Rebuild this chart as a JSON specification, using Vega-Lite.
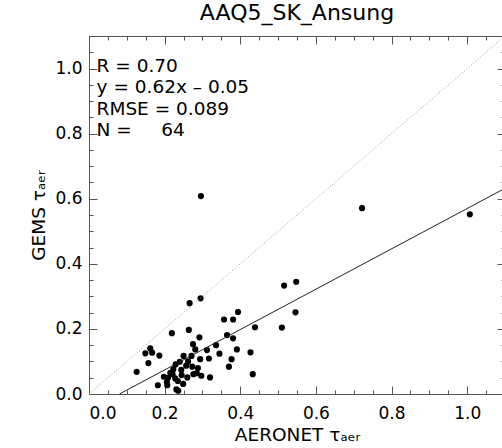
{
  "$schema": "https://vega.github.io/schema/vega-lite/v6.json",
  "autosize": {"type": "none"},
  "padding": {"left": 89, "top": 36, "right": 0, "bottom": 54},
  "width": 416,
  "height": 358,
  "background": "white",
  "title": {"text": "AAQ5_SK_Ansung", "fontSize": 22, "font": "DejaVu Sans", "fontWeight": "normal", "offset": 11, "color": "black"},
  "config": {
    "view": {"stroke": null},
    "axis": {"domainColor": "#555", "tickColor": "#555", "labelFont": "DejaVu Sans", "labelFontSize": 17, "labelColor": "black", "titleFont": "DejaVu Sans", "titleFontSize": 18.5, "titleFontWeight": "normal", "titleColor": "black", "grid": false}
  },
  "datasets": {
    "pts": [
      {"aeronet": 0.296, "gems": 0.608}, {"aeronet": 0.722, "gems": 0.571}, {"aeronet": 1.007, "gems": 0.552},
      {"aeronet": 0.516, "gems": 0.333}, {"aeronet": 0.548, "gems": 0.345}, {"aeronet": 0.546, "gems": 0.251},
      {"aeronet": 0.510, "gems": 0.204}, {"aeronet": 0.266, "gems": 0.279}, {"aeronet": 0.295, "gems": 0.294},
      {"aeronet": 0.219, "gems": 0.187}, {"aeronet": 0.264, "gems": 0.197}, {"aeronet": 0.292, "gems": 0.174},
      {"aeronet": 0.275, "gems": 0.153}, {"aeronet": 0.281, "gems": 0.137}, {"aeronet": 0.312, "gems": 0.135},
      {"aeronet": 0.336, "gems": 0.150}, {"aeronet": 0.345, "gems": 0.124}, {"aeronet": 0.357, "gems": 0.229},
      {"aeronet": 0.381, "gems": 0.229}, {"aeronet": 0.394, "gems": 0.252}, {"aeronet": 0.365, "gems": 0.181},
      {"aeronet": 0.381, "gems": 0.171}, {"aeronet": 0.391, "gems": 0.137}, {"aeronet": 0.377, "gems": 0.107},
      {"aeronet": 0.370, "gems": 0.084}, {"aeronet": 0.427, "gems": 0.128}, {"aeronet": 0.439, "gems": 0.205},
      {"aeronet": 0.433, "gems": 0.061}, {"aeronet": 0.250, "gems": 0.117}, {"aeronet": 0.271, "gems": 0.117},
      {"aeronet": 0.294, "gems": 0.107}, {"aeronet": 0.317, "gems": 0.109}, {"aeronet": 0.162, "gems": 0.140},
      {"aeronet": 0.167, "gems": 0.127}, {"aeronet": 0.149, "gems": 0.125}, {"aeronet": 0.186, "gems": 0.118},
      {"aeronet": 0.157, "gems": 0.095}, {"aeronet": 0.126, "gems": 0.068}, {"aeronet": 0.240, "gems": 0.099},
      {"aeronet": 0.229, "gems": 0.091}, {"aeronet": 0.257, "gems": 0.087}, {"aeronet": 0.273, "gems": 0.084},
      {"aeronet": 0.223, "gems": 0.076}, {"aeronet": 0.244, "gems": 0.074}, {"aeronet": 0.221, "gems": 0.061},
      {"aeronet": 0.198, "gems": 0.053}, {"aeronet": 0.209, "gems": 0.050}, {"aeronet": 0.260, "gems": 0.051},
      {"aeronet": 0.276, "gems": 0.061}, {"aeronet": 0.285, "gems": 0.064}, {"aeronet": 0.297, "gems": 0.056},
      {"aeronet": 0.320, "gems": 0.051}, {"aeronet": 0.206, "gems": 0.037}, {"aeronet": 0.235, "gems": 0.040},
      {"aeronet": 0.249, "gems": 0.031}, {"aeronet": 0.182, "gems": 0.027}, {"aeronet": 0.207, "gems": 0.027},
      {"aeronet": 0.231, "gems": 0.014}, {"aeronet": 0.236, "gems": 0.010}, {"aeronet": 0.215, "gems": 0.065},
      {"aeronet": 0.245, "gems": 0.058}, {"aeronet": 0.262, "gems": 0.100}, {"aeronet": 0.228, "gems": 0.048},
      {"aeronet": 0.288, "gems": 0.080}
    ],
    "fit": [{"x": 0.0806, "y": 0}, {"x": 1.1, "y": 0.632}],
    "one": [{"x": 0, "y": 0}, {"x": 1.1, "y": 1.1}],
    "notes": [
      {"tx": 0.02, "ty": 0.990, "label": "R = 0.70"},
      {"tx": 0.02, "ty": 0.924, "label": "y = 0.62x – 0.05"},
      {"tx": 0.02, "ty": 0.858, "label": "RMSE = 0.089"},
      {"tx": 0.02, "ty": 0.792, "label": "N =\u00a0\u00a0\u00a0\u00a0\u00a064"}
    ]
  },
  "layer": [
    {
      "data": {"name": "pts"},
      "mark": {"type": "circle", "size": 38, "color": "black", "opacity": 1},
      "encoding": {
        "x": {"field": "aeronet", "type": "quantitative", "scale": {"domain": [0, 1.1], "nice": false},
              "axis": {"orient": "bottom", "values": [0, 0.2, 0.4, 0.6, 0.8, 1.0], "format": ".1f", "tickSize": -8, "labelPadding": 19, "title": "AERONET τₐₑᵣ", "titlePadding": 4}},
        "y": {"field": "gems", "type": "quantitative", "scale": {"domain": [0, 1.1], "nice": false},
              "axis": {"orient": "left", "values": [0, 0.2, 0.4, 0.6, 0.8, 1.0], "format": ".1f", "tickSize": -8, "labelPadding": 15, "title": "GEMS τₐₑᵣ", "titlePadding": 6}}
      }
    },
    {
      "data": {"name": "fit"},
      "mark": {"type": "line", "color": "#222", "strokeWidth": 1, "clip": true},
      "encoding": {
        "x": {"field": "x", "type": "quantitative", "scale": {"domain": [0, 1.1], "nice": false},
              "axis": {"orient": "bottom", "values": [0.05, 0.1, 0.15, 0.25, 0.3, 0.35, 0.45, 0.5, 0.55, 0.65, 0.7, 0.75, 0.85, 0.9, 0.95, 1.05], "tickSize": -4, "labels": false, "domain": false, "title": null}},
        "y": {"field": "y", "type": "quantitative", "scale": {"domain": [0, 1.1], "nice": false},
              "axis": {"orient": "left", "values": [0.05, 0.1, 0.15, 0.25, 0.3, 0.35, 0.45, 0.5, 0.55, 0.65, 0.7, 0.75, 0.85, 0.9, 0.95, 1.05], "tickSize": -4, "labels": false, "domain": false, "title": null}}
      }
    },
    {
      "data": {"name": "one"},
      "mark": {"type": "line", "color": "#999", "strokeWidth": 1, "strokeDash": [1, 2], "clip": true},
      "encoding": {
        "x": {"field": "x", "type": "quantitative", "scale": {"domain": [0, 1.1], "nice": false},
              "axis": {"orient": "top", "values": [0, 0.2, 0.4, 0.6, 0.8, 1.0], "tickSize": -8, "labels": false, "title": null}},
        "y": {"field": "y", "type": "quantitative", "scale": {"domain": [0, 1.1], "nice": false},
              "axis": {"orient": "right", "values": [0, 0.2, 0.4, 0.6, 0.8, 1.0], "tickSize": -8, "labels": false, "title": null}}
      }
    },
    {
      "data": {"name": "notes"},
      "mark": {"type": "text", "align": "left", "baseline": "alphabetic", "fontSize": 18.5, "font": "DejaVu Sans", "color": "black"},
      "encoding": {
        "x": {"field": "tx", "type": "quantitative", "scale": {"domain": [0, 1.1], "nice": false},
              "axis": {"orient": "top", "values": [0.05, 0.1, 0.15, 0.25, 0.3, 0.35, 0.45, 0.5, 0.55, 0.65, 0.7, 0.75, 0.85, 0.9, 0.95, 1.05], "tickSize": -4, "labels": false, "domain": false, "title": null}},
        "y": {"field": "ty", "type": "quantitative", "scale": {"domain": [0, 1.1], "nice": false},
              "axis": {"orient": "right", "values": [0.05, 0.1, 0.15, 0.25, 0.3, 0.35, 0.45, 0.5, 0.55, 0.65, 0.7, 0.75, 0.85, 0.9, 0.95, 1.05], "tickSize": -4, "labels": false, "domain": false, "title": null}},
        "text": {"field": "label", "type": "nominal"}
      }
    }
  ],
  "resolve": {"axis": {"x": "independent", "y": "independent"}}
}
